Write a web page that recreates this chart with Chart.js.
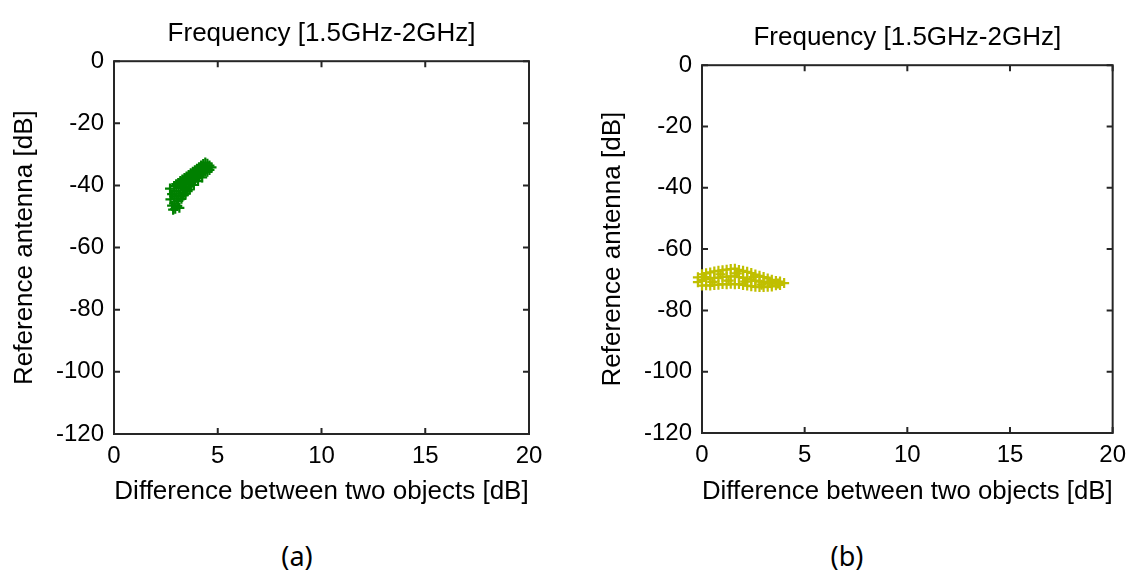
<!DOCTYPE html>
<html>
<head>
<meta charset="utf-8">
<script src="https://cdn.jsdelivr.net/npm/chart.js@4/dist/chart.umd.min.js"></script>
<style>
  body { margin: 0; background: #fff; width: 1134px; height: 574px; position: relative; overflow: hidden; }
  canvas { position: absolute; top: 0; }
  .cap { position: absolute; top: 537px; font: 27px "Noto Sans", "Open Sans", sans-serif; color: #000; transform: translateX(-50%); }
</style>
</head>
<body>
<canvas id="ca" width="567" height="520" style="left:0px"></canvas>
<canvas id="cb" width="567" height="520" style="left:567px"></canvas>
<div class="cap" style="left:297px">(a)</div>
<div class="cap" style="left:847px">(b)</div>
<script>
// chart text
var plotTitle = 'Frequency [1.5GHz-2GHz]';
var xTitle = 'Difference between two objects [dB]';
var yTitle = 'Reference antenna [dB]';
var xMin = 0, xMax = 20, xStep = 5;
var yMin = -120, yMax = 0, yStep = 20;

// (a) green cloud, [difference, reference]
var pointsA = [
 [2.7,-41],[2.72,-44.5],[2.8,-42.8],[2.8,-46.5],[2.9,-40.2],[2.9,-43.5],[2.9,-45.8],[2.95,-47.5],
 [3.0,-39.6],[3.0,-41.8],[3.0,-44.2],[3.05,-46.6],[3.1,-39.2],[3.1,-42.6],[3.1,-45],[3.2,-38.6],
 [3.2,-40.8],[3.2,-43.4],[3.3,-38.1],[3.3,-40.2],[3.3,-42.4],[3.4,-37.6],[3.4,-39.5],[3.4,-41.4],
 [3.5,-37.1],[3.5,-39],[3.5,-40.9],[3.6,-36.6],[3.6,-38.5],[3.6,-40.4],[3.7,-36.1],[3.7,-37.9],
 [3.7,-39.6],[3.8,-35.6],[3.8,-37.2],[3.8,-38.6],[3.9,-35.1],[3.9,-36.6],[3.9,-38.1],[4.0,-34.6],
 [4.0,-36.1],[4.0,-37.5],[4.1,-34.1],[4.1,-35.5],[4.1,-37],[4.2,-33.6],[4.2,-35],[4.2,-36.5],
 [4.3,-33.1],[4.3,-34.6],[4.3,-36],[4.4,-32.6],[4.4,-34.1],[4.4,-35.5],[4.5,-33],[4.5,-34.4],
 [4.5,-35.6],[4.6,-33.6],[4.6,-35],[4.7,-34.2],[3.15,-47.2],[2.85,-47.8],
 [3.25,-44.3],[3.45,-42.6],[3.65,-41.3],[3.85,-39.8],[4.05,-38.6],[4.25,-37.4],[3.35,-43.2],[3.55,-41.8]
];

// (b) yellow cloud
var pointsB = [
 [-0.2,-69.2],[-0.2,-70.8],[0,-68.2],[0,-70.1],[0,-71.9],[0.2,-67.9],[0.2,-69.8],[0.2,-71.8],
 [0.4,-67.6],[0.4,-69.6],[0.4,-71.9],[0.6,-67.3],[0.6,-69.4],[0.6,-71.7],[0.8,-67.1],[0.8,-69.3],
 [0.8,-71.6],[1.0,-66.9],[1.0,-69.1],[1.0,-71.4],[1.2,-66.7],[1.2,-69],[1.2,-71.5],[1.4,-66.5],
 [1.4,-68.9],[1.4,-71.3],[1.6,-66.4],[1.6,-68.9],[1.6,-71.5],[1.8,-66.8],[1.8,-69.1],[1.8,-71.4],
 [2.0,-67.1],[2.0,-69.4],[2.0,-71.7],[2.2,-67.4],[2.2,-69.7],[2.2,-71.9],[2.4,-67.8],[2.4,-70],
 [2.4,-72.1],[2.6,-68.3],[2.6,-70.3],[2.6,-72.3],[2.8,-68.7],[2.8,-70.6],[2.8,-72.4],[3.0,-69.1],
 [3.0,-70.8],[3.0,-72.4],[3.2,-69.6],[3.2,-71],[3.2,-72.3],[3.4,-70],[3.4,-71.2],[3.4,-72.2],
 [3.6,-70.4],[3.6,-71.8],[3.8,-70.6],[3.8,-71.7],[4.0,-71.1],
 [0.1,-69.1],[0.5,-70.7],[0.9,-68.2],[1.3,-70.3],[1.7,-67.9],[2.1,-70.6],[2.5,-69.1],[2.9,-71.6],[3.3,-70.6],[3.7,-71.2]
];

var fam = '"Liberation Sans", Arial, sans-serif';

// matlab style box with inward ticks on all sides
var framePlugin = {
  id: 'frame',
  beforeDatasetsDraw: function(chart) {
    var ctx = chart.ctx, a = chart.chartArea, sx = chart.scales.x, sy = chart.scales.y;
    ctx.save();
    ctx.strokeStyle = '#262626';
    ctx.lineWidth = 2;
    ctx.strokeRect(a.left, a.top, a.right - a.left, a.bottom - a.top);
    ctx.beginPath();
    sx.ticks.forEach(function(t) {
      var p = sx.getPixelForValue(t.value);
      ctx.moveTo(p, a.bottom); ctx.lineTo(p, a.bottom - 6);
      ctx.moveTo(p, a.top); ctx.lineTo(p, a.top + 6);
    });
    sy.ticks.forEach(function(t) {
      var p = sy.getPixelForValue(t.value);
      ctx.moveTo(a.left, p); ctx.lineTo(a.left + 6, p);
      ctx.moveTo(a.right, p); ctx.lineTo(a.right - 6, p);
    });
    ctx.stroke();
    ctx.restore();
  }
};

function make_chart(id, pts, color, cfg) {
  var ctx = document.getElementById(id).getContext('2d');
  return new Chart(ctx, {
    type: 'scatter',
    data: {
      datasets: [{
        data: pts.map(function(p) { return {x: p[0], y: p[1]}; }),
        pointStyle: 'cross',
        pointRadius: 5,
        borderWidth: 2.2,
        borderColor: color,
        backgroundColor: color,
        clip: false
      }]
    },
    options: {
      responsive: false,
      animation: false,
      devicePixelRatio: 1,
      layout: { padding: { left: 0, right: cfg.right, top: 0, bottom: 0 } },
      plugins: {
        legend: { display: false },
        tooltip: { enabled: false },
        title: {
          display: true, text: plotTitle, fullSize: false, color: '#000',
          font: { family: fam, size: 26, weight: 'normal' },
          padding: { top: cfg.titleTop, bottom: 12 }
        }
      },
      scales: {
        x: {
          type: 'linear', min: xMin, max: xMax,
          grid: { display: false, drawTicks: false },
          border: { display: false },
          ticks: { stepSize: xStep, color: '#000', padding: 8, font: { family: fam, size: 24 } },
          title: { display: true, text: xTitle, color: '#000', font: { family: fam, size: 26 }, padding: { top: 0, bottom: 13 } },
          afterFit: function(s) { s.height = cfg.xh; }
        },
        y: {
          type: 'linear', min: yMin, max: yMax,
          grid: { display: false, drawTicks: false },
          border: { display: false },
          ticks: { stepSize: yStep, color: '#000', padding: 10, font: { family: fam, size: 24 } },
          title: { display: true, text: yTitle, color: '#000', font: { family: fam, size: 26 }, padding: { top: cfg.yTitlePad, bottom: 0 } },
          afterFit: function(s) { s.width = cfg.yw; }
        }
      }
    },
    plugins: [framePlugin]
  });
}

make_chart('ca', pointsA, '#008000', { right: 38, titleTop: 18, xh: 86, yw: 114, yTitlePad: 9 });
make_chart('cb', pointsB, '#c0bf00', { right: 16, titleTop: 22, xh: 87, yw: 135, yTitlePad: 30 });
</script>
</body>
</html>
